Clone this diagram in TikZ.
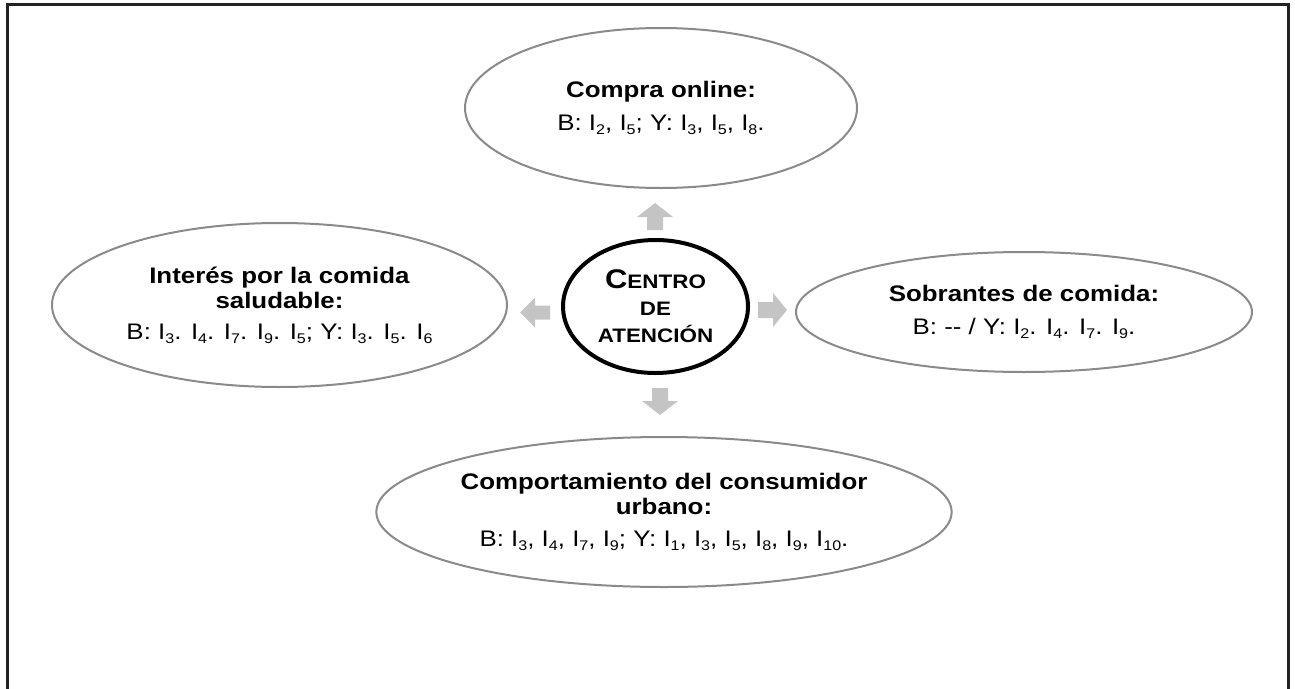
\documentclass[tikz,border=0pt]{standalone}
\usepackage{fontspec}
\setmainfont{Liberation Sans}[FakeStretch=1.15]
\usetikzlibrary{shapes.geometric,calc}
\newcommand{\ssb}[1]{\raisebox{-4pt}{\fontsize{14}{14}\selectfont #1}}
\definecolor{edgegray}{HTML}{8A8A8A}
\definecolor{arrowgray}{HTML}{C4C4C4}
\definecolor{framegray}{HTML}{222222}
\begin{document}
\begin{tikzpicture}[x=1pt,y=-1pt,
  bubble/.style={ellipse, draw=edgegray, line width=2pt, inner sep=0pt, align=center,
    font=\fontsize{22.5}{25}\selectfont},
  core/.style={ellipse, draw=black, line width=4pt, inner sep=0pt, align=center,
    font=\fontsize{19.5}{27}\selectfont\bfseries},
  blockarrow/.style={fill=arrowgray, draw=none},
  frameline/.style={draw=framegray, line width=3pt}]
\useasboundingbox (0,0) rectangle (1295,688);
\draw[frameline] (7,690) -- (7,4) -- (1288,4) -- (1288,690);

\node[core, minimum width=185pt, minimum height=133pt] (c) at (655.5,306.5)
  {{\fontsize{27}{27}\selectfont C}ENTRO\\DE\\ATENCIÓN};

\node[bubble, minimum width=392pt, minimum height=160pt] (top) at (661,108)
  {\textbf{Compra online:}\\[8pt]B: I\ssb{2}, I\ssb{5}; Y: I\ssb{3}, I\ssb{5}, I\ssb{8}.};

\node[bubble, minimum width=455pt, minimum height=164pt] (left) at (279.5,305)
  {\textbf{Interés por la comida}\\\textbf{saludable:}\\[6pt]B: I\ssb{3}. I\ssb{4}. I\ssb{7}. I\ssb{9}. I\ssb{5}; Y: I\ssb{3}. I\ssb{5}. I\ssb{6}};

\node[bubble, minimum width=456pt, minimum height=120pt] (right) at (1024,312)
  {\textbf{Sobrantes de comida:}\\[8pt]B: -{}- / Y: I\ssb{2}. I\ssb{4}. I\ssb{7}. I\ssb{9}.};

\node[bubble, minimum width=568pt, minimum height=150pt] (bottom) at (664,512)
  {\textbf{Comportamiento del consumidor}\\\textbf{urbano:}\\[7pt]B: I\ssb{3}, I\ssb{4}, I\ssb{7}, I\ssb{9}; Y: I\ssb{1}, I\ssb{3}, I\ssb{5}, I\ssb{8}, I\ssb{9}, I\ssb{10}.};

% block arrows from the centre toward each bubble
\coordinate (au) at (655,216.5);
\coordinate (al) at (535,312.5);
\coordinate (ar) at (772.5,310);
\coordinate (ad) at (660,401.5);
\fill[blockarrow] ($(au)+(0,-13.5)$) -- ++(18,14) -- ++(-10,0) -- ++(0,13) -- ++(-16,0) -- ++(0,-13) -- ++(-10,0) -- cycle;
\fill[blockarrow] ($(al)+(-15,0)$) -- ++(15,-15) -- ++(0,8) -- ++(15,0) -- ++(0,14) -- ++(-15,0) -- ++(0,8) -- cycle;
\fill[blockarrow] ($(ar)+(14.5,0)$) -- ++(-14,-17) -- ++(0,9) -- ++(-15,0) -- ++(0,16) -- ++(15,0) -- ++(0,9) -- cycle;
\fill[blockarrow] ($(ad)+(0,13.5)$) -- ++(18,-14) -- ++(-10,0) -- ++(0,-13) -- ++(-16,0) -- ++(0,13) -- ++(-10,0) -- cycle;
\end{tikzpicture}
\end{document}
